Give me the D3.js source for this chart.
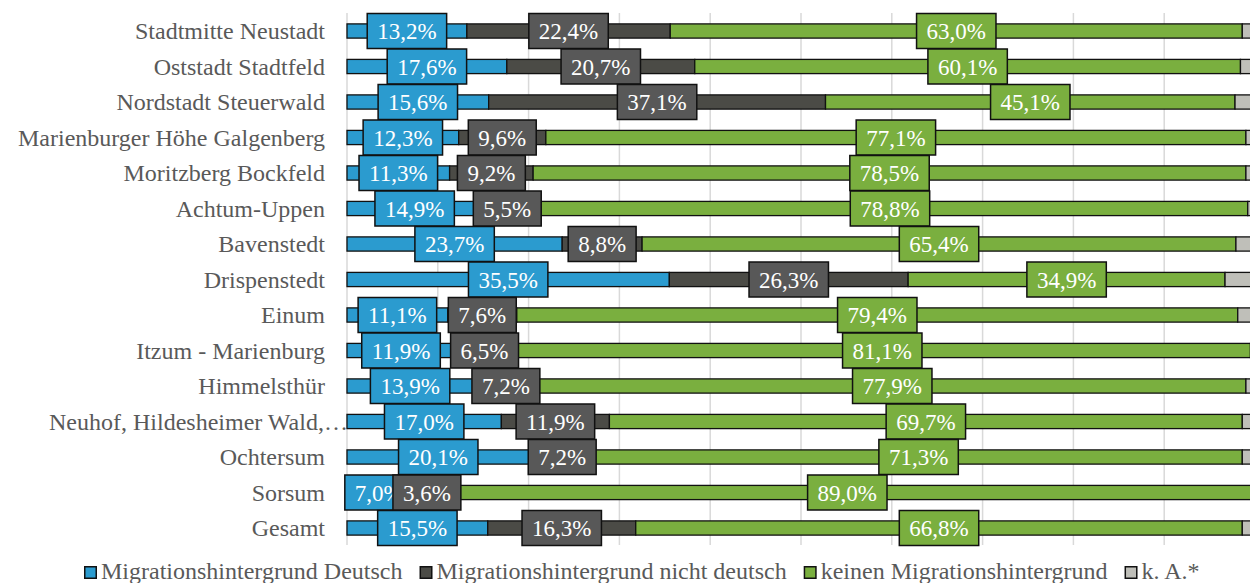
<!DOCTYPE html>
<html>
<head>
<meta charset="utf-8">
<script src="https://cdn.jsdelivr.net/npm/d3@7"></script>
<style>
  html, body { margin: 0; padding: 0; background: #fff; overflow: hidden; }
  svg { display: block; font-family: "Liberation Serif", "Times New Roman", serif; }
</style>
</head>
<body>
<svg id="chart" width="1250" height="583"></svg>
<script>
// Stadtteile, von oben nach unten
const categories = [
  "Stadtmitte Neustadt", "Oststadt Stadtfeld", "Nordstadt Steuerwald",
  "Marienburger Höhe Galgenberg", "Moritzberg Bockfeld", "Achtum-Uppen",
  "Bavenstedt", "Drispenstedt", "Einum", "Itzum - Marienburg", "Himmelsthür",
  "Neuhof, Hildesheimer Wald,…", "Ochtersum", "Sorsum", "Gesamt"
];

// Anteile in Prozent
const migDeutsch      = [13.2, 17.6, 15.6, 12.3, 11.3, 14.9, 23.7, 35.5, 11.1, 11.9, 13.9, 17.0, 20.1, 7.0, 15.5];
const migNichtDeutsch = [22.4, 20.7, 37.1,  9.6,  9.2,  5.5,  8.8, 26.3,  7.6,  6.5,  7.2, 11.9,  7.2, 3.6, 16.3];
const keinenMig       = [63.0, 60.1, 45.1, 77.1, 78.5, 78.8, 65.4, 34.9, 79.4, 81.1, 77.9, 69.7, 71.3, 89.0, 66.8];
const keineAngabe     = [ 1.4,  1.6,  2.2,  1.0,  1.0,  0.8,  2.1,  3.3,  1.9,  0.5,  1.0,  1.4,  1.4, 0.4,  1.4];

const seriesNames = ["Migrationshintergrund Deutsch", "Migrationshintergrund nicht deutsch",
                     "keinen Migrationshintergrund", "k. A.*"];
const gridTicks = [0, 10, 20, 30, 40, 50, 60, 70, 80, 90, 100];

const barColors   = ["#2b9bcf", "#4b4b46", "#7aaf3f", "#bfbfb9"];
const labelColors = ["#2b9bcf", "#585858", "#7aaf3f", null];

const svg = d3.select("#chart");

const x = d3.scaleLinear().domain([0, 100]).range([347, 1255]);
const y = d3.scaleBand().domain(categories).range([13.25, 545.75])
  .paddingInner(0.6).paddingOuter(0.3);

// vertical gridlines
svg.append("g").selectAll("line").data(gridTicks).join("line")
  .attr("x1", d => x(d)).attr("x2", d => x(d))
  .attr("y1", 13).attr("y2", 545)
  .attr("stroke", "#d9d9d9").attr("stroke-width", 1.5);

// stacked rows
const rows = categories.map((c, i) => {
  const vals = [migDeutsch[i], migNichtDeutsch[i], keinenMig[i], keineAngabe[i]];
  let acc = 0;
  return vals.map((v, k) => {
    const seg = { cat: c, k, v, x0: acc, x1: acc + v };
    acc += v;
    return seg;
  });
});
const segs = rows.flat();

svg.append("g").selectAll("rect").data(segs).join("rect")
  .attr("x", d => x(d.x0))
  .attr("y", d => y(d.cat))
  .attr("width", d => x(d.x1) - x(d.x0))
  .attr("height", y.bandwidth())
  .attr("fill", d => barColors[d.k])
  .attr("stroke", "#111")
  .attr("stroke-width", 1.3);

// value labels in boxes, drawn series by series
const fmt = v => v.toFixed(1).replace(".", ",") + "%";
const labelLayer = svg.append("g");
[0, 1, 2].forEach(k => {
  segs.filter(d => d.k === k).forEach(d => {
    const g = labelLayer.append("g");
    const cx = x((d.x0 + d.x1) / 2);
    const cy = y(d.cat) + y.bandwidth() / 2;
    const box = g.append("rect");
    const t = g.append("text")
      .attr("x", cx).attr("y", cy + 8)
      .attr("text-anchor", "middle")
      .attr("font-size", 23)
      .attr("fill", "#fff")
      .text(fmt(d.v));
    const w = t.node().getComputedTextLength() + 20;
    box.attr("x", cx - w / 2).attr("y", cy - 17.5)
      .attr("width", w).attr("height", 35)
      .attr("fill", labelColors[k])
      .attr("stroke", "#111").attr("stroke-width", 1.5);
  });
});

// category labels
svg.append("g").selectAll("text").data(categories).join("text")
  .attr("x", d => d.endsWith("…") ? 49 : 325)
  .attr("text-anchor", d => d.endsWith("…") ? "start" : "end")
  .attr("y", d => y(d) + y.bandwidth() / 2 + 8)
  .attr("font-size", 24)
  .attr("fill", "#595959")
  .text(d => d);

// legend
const legend = svg.append("g");
let lx = 84;
seriesNames.forEach((name, k) => {
  legend.append("rect")
    .attr("x", lx + 0.75).attr("y", 566.75)
    .attr("width", 11.5).attr("height", 11.5)
    .attr("fill", barColors[k])
    .attr("stroke", "#111").attr("stroke-width", 1.5);
  const t = legend.append("text")
    .attr("x", lx + 17).attr("y", 579)
    .attr("font-size", 24)
    .attr("fill", "#595959")
    .text(name);
  lx += 17 + t.node().getComputedTextLength() + 17;
});
</script>
</body>
</html>
